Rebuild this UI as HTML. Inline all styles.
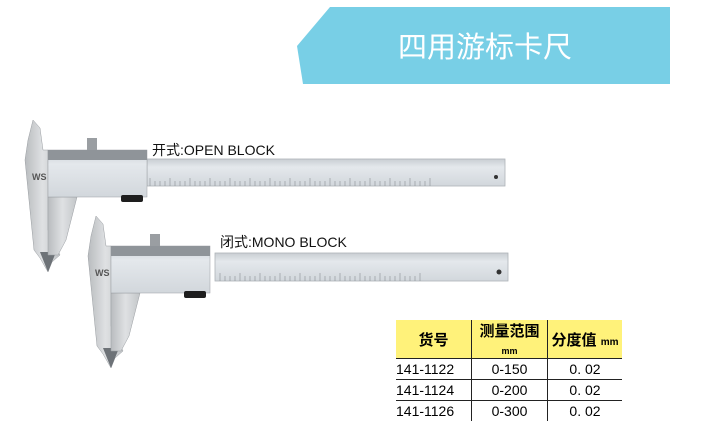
<!DOCTYPE html>
<html><head><meta charset="utf-8"><style>
html,body{margin:0;padding:0;background:#fff;width:703px;height:439px;overflow:hidden;position:relative;font-family:"Liberation Sans","Noto Sans CJK SC",sans-serif}
.t{position:absolute;border-collapse:collapse;left:396px;top:320px;font-size:14px}
.t td{border-right:1.5px solid #222;border-bottom:1.5px solid #222;text-align:center;padding:0;height:20px}
.t td:last-child{border-right:none}
.t tr.h td{background:#fff27a;height:33px;font-weight:bold;font-size:15px}
</style></head><body>
<svg width="703" height="439" style="position:absolute;left:0;top:0">
<defs>
<linearGradient id="g" x1="0" x2="1"><stop offset="0" stop-color="#b9bcbf"/><stop offset=".5" stop-color="#dfe1e3"/><stop offset="1" stop-color="#c2c5c8"/></linearGradient>
<linearGradient id="b" x1="0" y1="0" x2="0" y2="1"><stop offset="0" stop-color="#c9ced3"/><stop offset=".3" stop-color="#e4e8ec"/><stop offset="1" stop-color="#d2d7dc"/></linearGradient>
<g id="cal">
<polygon points="33,120 40,128 43,150 48,150 48,230 60,255 52,262 48,272 40,258 34,250 25,160 28,140" fill="url(#g)" stroke="#9a9ea2" stroke-width=".5"/>
<polygon points="40,252 48,272 56,252" fill="#6d7277"/>
<polygon points="48,197 77,197 66,240 58,255 48,255" fill="url(#g)" stroke="#9a9ea2" stroke-width=".5"/>
<rect x="48" y="150" width="99" height="47" fill="url(#b)" stroke="#9a9ea2" stroke-width=".5"/>
<rect x="48" y="150" width="99" height="10" fill="#8f9499"/>
<rect x="87" y="138" width="10" height="12" fill="#9a9ea2"/>
<rect x="121" y="195" width="22" height="7" rx="2" fill="#1e1e1e"/>
<text x="32" y="180" font-size="9" font-weight="bold" fill="#555">WS</text>
</g>
</defs>
<polygon points="330,7 670,7 670,84 303,84 297,46" fill="#78cfe6"/>
<text x="485" y="57" font-size="29" fill="#fff" text-anchor="middle" font-family="Noto Sans CJK SC,sans-serif">四用游标卡尺</text>
<rect x="147" y="159" width="358" height="27" fill="url(#b)" stroke="#aeb3b8" stroke-width=".8"/>
<g stroke="#8a8f94" stroke-width=".6">
<path d="M150 186v-8M155 186v-5M160 186v-5M165 186v-5M170 186v-8M175 186v-5M180 186v-5M185 186v-5M190 186v-8M195 186v-5M200 186v-5M205 186v-5M210 186v-8M215 186v-5M220 186v-5M225 186v-5M230 186v-8M235 186v-5M240 186v-5M245 186v-5M250 186v-8M255 186v-5M260 186v-5M265 186v-5M270 186v-8M275 186v-5M280 186v-5M285 186v-5M290 186v-8M295 186v-5M300 186v-5M305 186v-5M310 186v-8M315 186v-5M320 186v-5M325 186v-5M330 186v-8M335 186v-5M340 186v-5M345 186v-5M350 186v-8M355 186v-5M360 186v-5M365 186v-5M370 186v-8M375 186v-5M380 186v-5M385 186v-5M390 186v-8M395 186v-5M400 186v-5M405 186v-5M410 186v-8M415 186v-5M420 186v-5M425 186v-5M430 186v-8"/>
</g>
<use href="#cal"/>
<rect x="215" y="253" width="293" height="28" fill="url(#b)" stroke="#aeb3b8" stroke-width=".8"/>
<g stroke="#8a8f94" stroke-width=".6" transform="translate(70,95)">
<path d="M150 186v-8M155 186v-5M160 186v-5M165 186v-5M170 186v-8M175 186v-5M180 186v-5M185 186v-5M190 186v-8M195 186v-5M200 186v-5M205 186v-5M210 186v-8M215 186v-5M220 186v-5M225 186v-5M230 186v-8M235 186v-5M240 186v-5M245 186v-5M250 186v-8M255 186v-5M260 186v-5M265 186v-5M270 186v-8M275 186v-5M280 186v-5M285 186v-5M290 186v-8M295 186v-5M300 186v-5M305 186v-5M310 186v-8M315 186v-5M320 186v-5M325 186v-5M330 186v-8M335 186v-5M340 186v-5M345 186v-5M350 186v-8"/>
</g>
<g transform="translate(63,96)"><use href="#cal"/></g>
<circle cx="496" cy="177" r="2" fill="#333"/><circle cx="499" cy="272" r="2.5" fill="#333"/>
<text x="152" y="155" font-size="14" fill="#111">开式:OPEN BLOCK</text>
<text x="220" y="247" font-size="14" fill="#111">闭式:MONO BLOCK</text>
</svg>
<table class="t">
<tr class="h"><td style="width:75px">货号</td><td style="width:75px">测量范围<br><span style="font-size:9px">mm</span></td><td style="width:74px">分度值 <span style="font-size:10px">mm</span></td></tr>
<tr><td style="text-align:left">141-1122</td><td>0-150</td><td>0. 02</td></tr>
<tr><td style="text-align:left">141-1124</td><td>0-200</td><td>0. 02</td></tr>
<tr><td style="text-align:left;border-bottom:none">141-1126</td><td style="border-bottom:none">0-300</td><td style="border-bottom:none">0. 02</td></tr>
</table>
</body></html>
